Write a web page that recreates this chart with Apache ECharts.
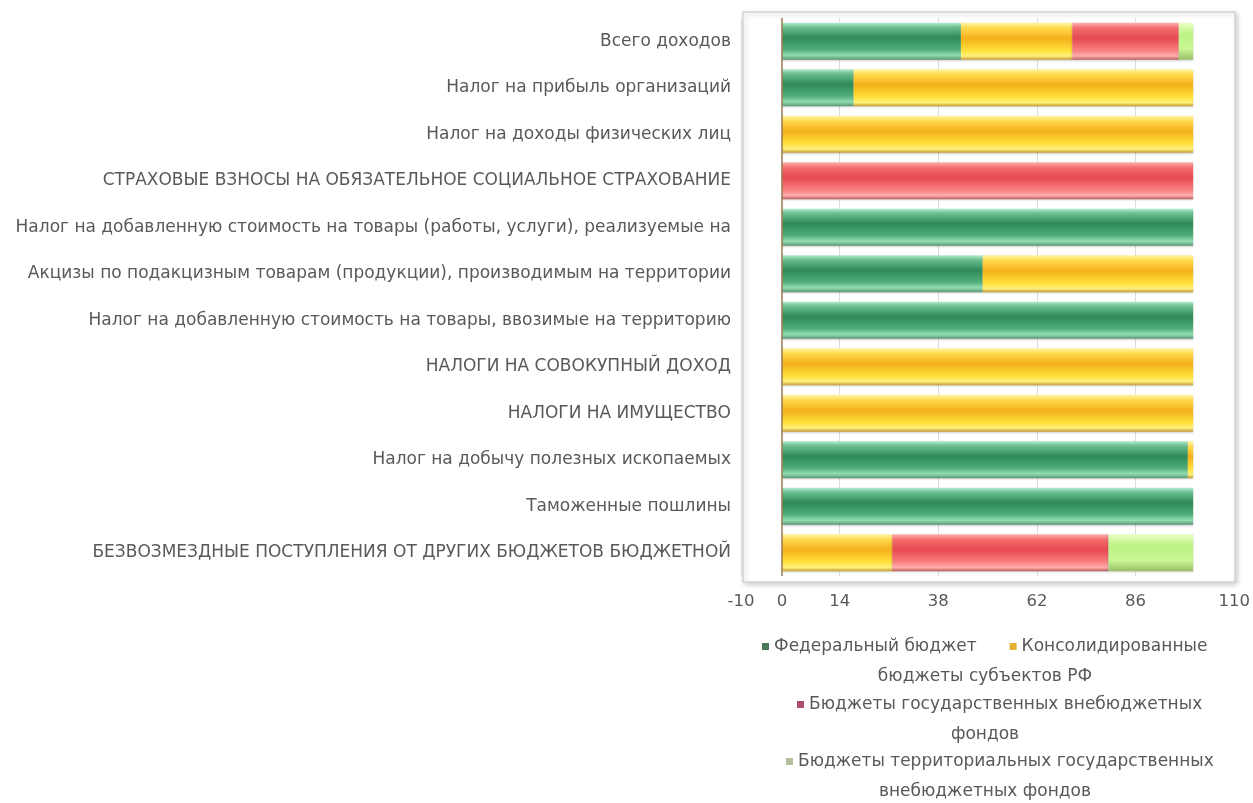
<!DOCTYPE html>
<html>
<head>
<meta charset="utf-8">
<script src="https://cdn.jsdelivr.net/npm/echarts@6/dist/echarts.min.js"></script>
<style>
html,body{margin:0;padding:0;background:#fff;}
#chart{width:1253px;height:803px;}
</style>
</head>
<body>
<div id="chart"></div>
<script>
var categories = [
  'Всего доходов',
  'Налог на прибыль организаций',
  'Налог на доходы физических лиц',
  'СТРАХОВЫЕ ВЗНОСЫ НА ОБЯЗАТЕЛЬНОЕ СОЦИАЛЬНОЕ СТРАХОВАНИЕ',
  'Налог на добавленную стоимость на товары (работы, услуги), реализуемые на',
  'Акцизы по подакцизным товарам (продукции), производимым на территории',
  'Налог на добавленную стоимость на товары, ввозимые на территорию',
  'НАЛОГИ НА СОВОКУПНЫЙ ДОХОД',
  'НАЛОГИ НА ИМУЩЕСТВО',
  'Налог на добычу полезных ископаемых',
  'Таможенные пошлины',
  'БЕЗВОЗМЕЗДНЫЕ ПОСТУПЛЕНИЯ ОТ ДРУГИХ БЮДЖЕТОВ БЮДЖЕТНОЙ'
];
var seriesNames = [
  'Федеральный бюджет',
  'Консолидированные бюджеты субъектов РФ',
  'Бюджеты государственных внебюджетных фондов',
  'Бюджеты территориальных государственных внебюджетных фондов'
];
var federal     = [43.5, 17.4, 0, 0, 100, 48.8, 100, 0, 0, 98.7, 100, 0];
var regional    = [27.1, 82.6, 100, 0, 0, 51.2, 0, 100, 100, 1.3, 0, 26.8];
var funds       = [25.9, 0, 0, 100, 0, 0, 0, 0, 0, 0, 0, 52.6];
var territorial = [3.5, 0, 0, 0, 0, 0, 0, 0, 0, 0, 0, 20.6];
var xTickLabels = [-10, 0, 14, 38, 62, 86, 110];

// legend split text (first line in legend, continuation line as text below)
var legendFirstLine = {
  'Федеральный бюджет': 'Федеральный бюджет',
  'Консолидированные бюджеты субъектов РФ': 'Консолидированные',
  'Бюджеты государственных внебюджетных фондов': 'Бюджеты государственных внебюджетных',
  'Бюджеты территориальных государственных внебюджетных фондов': 'Бюджеты территориальных государственных'
};
var legendRest = ['бюджеты субъектов РФ', 'фондов', 'внебюджетных фондов'];

function grad(stops) {
  return new echarts.graphic.LinearGradient(0, 0, 0, 1, stops.map(function (s) { return {offset: s[0], color: s[1]}; }));
}
var fills = [
  grad([[0,'#b4ecd0'],[0.12,'#6cbf91'],[0.4,'#2f8a58'],[0.72,'#4fac78'],[0.88,'#92ddb2'],[1,'#5a9472']]),
  grad([[0,'#fff6a6'],[0.15,'#ffd84a'],[0.42,'#f5b01c'],[0.75,'#ffe03a'],[0.9,'#fff07e'],[1,'#c49a30']]),
  grad([[0,'#ffb0b0'],[0.15,'#f36b6b'],[0.42,'#e64a4f'],[0.75,'#f98080'],[0.9,'#ffacac'],[1,'#b85a5a']]),
  grad([[0,'#ecffc6'],[0.3,'#bdf285'],[0.7,'#c9f794'],[1,'#98bf68']])
];
var legendColors = ['#4a7a5a', '#e8b030', '#a8506a', '#b4c09c'];
var dataSets = [federal, regional, funds, territorial];

var textColor = '#595959';
var fontFam = 'DejaVu Sans';

var series = seriesNames.map(function (n, i) {
  var s = {
    name: n,
    type: 'bar',
    stack: 'total',
    barWidth: 37,
    data: dataSets[i],
    itemStyle: {color: fills[i], shadowColor: 'rgba(0,0,0,0.18)', shadowBlur: 2, shadowOffsetY: 1},
    emphasis: {disabled: true}
  };
  if (i === 0) {
    s.markLine = {
      silent: true,
      symbol: ['none', 'none'],
      label: {show: false},
      lineStyle: {color: '#9a7a50', width: 1.5, type: 'solid'},
      data: [{xAxis: 0}]
    };
  }
  return s;
});

var legendText = {color: textColor, fontFamily: fontFam, fontSize: 17};
var chart = echarts.init(document.getElementById('chart'), null, {renderer: 'canvas'});
chart.setOption({
  backgroundColor: '#ffffff',
  animation: false,
  grid: {left: 741, right: 18, top: 18, bottom: 227, containLabel: false},
  xAxis: {
    type: 'value',
    min: -10,
    max: 110,
    interval: 24,
    axisLine: {show: false},
    axisTick: {show: false},
    splitLine: {show: true, lineStyle: {color: '#dcdcdc', width: 1}},
    axisLabel: {
      customValues: xTickLabels,
      color: textColor, fontFamily: fontFam, fontSize: 16.5, margin: 17
    }
  },
  yAxis: {
    type: 'category',
    inverse: true,
    data: categories,
    axisLine: {show: false, onZero: false},
    axisTick: {show: false},
    axisLabel: {color: textColor, fontFamily: fontFam, fontSize: 17, margin: 10}
  },
  legend: [
    {
      data: [
        {name: seriesNames[0], itemStyle: {color: legendColors[0]}},
        {name: seriesNames[1], itemStyle: {color: legendColors[1]}}
      ],
      left: 762, top: 638, padding: 0, icon: 'rect', itemWidth: 7, itemHeight: 7, itemGap: 33,
      selectedMode: false,
      formatter: function (n) { return legendFirstLine[n]; },
      textStyle: legendText
    },
    {
      data: [{name: seriesNames[2], itemStyle: {color: legendColors[2]}}],
      left: 797, top: 696, padding: 0, icon: 'rect', itemWidth: 7, itemHeight: 7,
      selectedMode: false,
      formatter: function (n) { return legendFirstLine[n]; },
      textStyle: legendText
    },
    {
      data: [{name: seriesNames[3], itemStyle: {color: legendColors[3]}}],
      left: 786, top: 753, padding: 0, icon: 'rect', itemWidth: 7, itemHeight: 7,
      selectedMode: false,
      formatter: function (n) { return legendFirstLine[n]; },
      textStyle: legendText
    }
  ],
  graphic: [
    {type: 'rect', z: -10, silent: true, shape: {x: 743, y: 12, width: 492, height: 570},
      style: {fill: '#ffffff', stroke: '#d4d4d4', lineWidth: 1.5, shadowColor: 'rgba(0,0,0,0.18)', shadowBlur: 5, shadowOffsetX: 2, shadowOffsetY: 2}},
    {type: 'text', silent: true, x: 985, y: 677,
      style: {text: legendRest[0], fill: textColor, font: '17px "DejaVu Sans"', textAlign: 'center', textVerticalAlign: 'middle'}},
    {type: 'text', silent: true, x: 985, y: 735,
      style: {text: legendRest[1], fill: textColor, font: '17px "DejaVu Sans"', textAlign: 'center', textVerticalAlign: 'middle'}},
    {type: 'text', silent: true, x: 985, y: 792,
      style: {text: legendRest[2], fill: textColor, font: '17px "DejaVu Sans"', textAlign: 'center', textVerticalAlign: 'middle'}}
  ],
  series: series
});
</script>
</body>
</html>
